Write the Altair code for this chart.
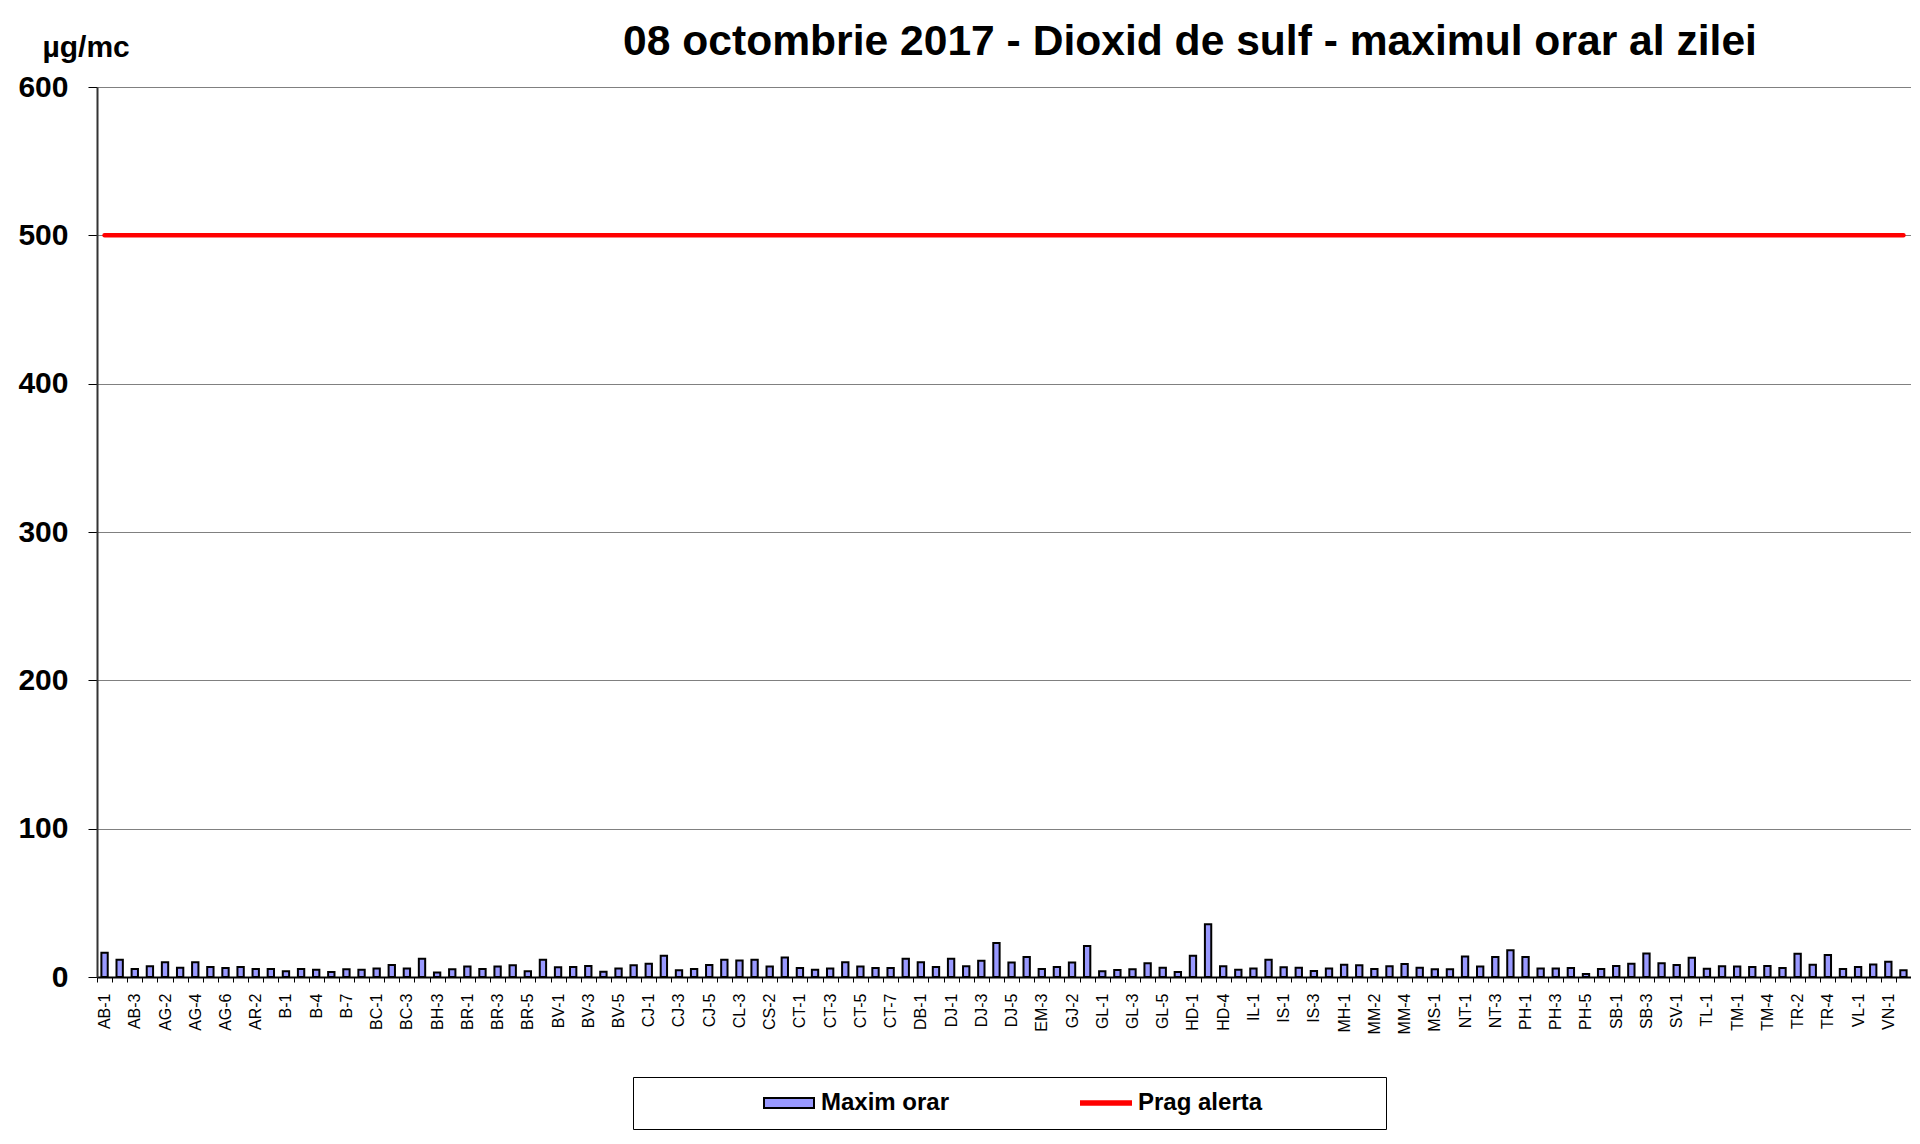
import altair as alt
import pandas as pd
import json

stations = ["AB-1","AB-2","AB-3","AG-1","AG-2","AG-3","AG-4","AG-5","AG-6","AR-1","AR-2","AR-3",
            "B-1","B-3","B-4","B-6","B-7","B-9","BC-1","BC-2","BC-3","BH-2","BH-3","BH-4",
            "BR-1","BR-2","BR-3","BR-4","BR-5","BT-1","BV-1","BV-2","BV-3","BV-4","BV-5","BZ-1",
            "CJ-1","CJ-2","CJ-3","CJ-4","CJ-5","CL-2","CL-3","CS-1","CS-2","CS-3",
            "CT-1","CT-2","CT-3","CT-4","CT-5","CT-6","CT-7","CV-1","DB-1","DB-2",
            "DJ-1","DJ-2","DJ-3","DJ-4","DJ-5","EM-2","EM-3","GJ-1","GJ-2","GJ-3",
            "GL-1","GL-2","GL-3","GL-4","GL-5","GR-1","HD-1","HD-3","HD-4","HR-1","IL-1","IL-2",
            "IS-1","IS-2","IS-3","IS-5","MH-1","MM-1","MM-2","MM-3","MM-4","MM-5","MS-1","MS-2",
            "NT-1","NT-2","NT-3","OT-1","PH-1","PH-2","PH-3","PH-4","PH-5","PH-6",
            "SB-1","SB-2","SB-3","SJ-1","SV-1","SV-2","TL-1","TL-2","TM-1","TM-3","TM-4","TM-5",
            "TR-2","TR-3","TR-4","TR-5","VL-1","VL-2","VN-1","VN-2"]

maxim_orar = [16.4, 11.7, 5.4, 7.2, 9.9, 6.3, 9.9, 6.7, 6.1, 6.7, 5.4, 5.4, 3.8, 5.4, 4.9, 3.4, 5.2, 4.9,
              5.8, 8.1, 5.8, 12.3, 3.1, 5.2, 7.0,
              5.4, 7.0, 7.9, 3.8, 11.7, 6.5, 6.7, 7.4, 3.6, 5.8, 7.9, 9.0, 14.4, 4.5, 5.4, 8.1, 11.7,
              11.2, 11.7, 7.0, 13.2, 6.1, 4.9, 5.8,
              9.9, 7.0, 6.1, 6.1, 12.3, 9.9, 6.7, 12.3, 7.2, 11.0, 22.9, 9.7, 13.5, 5.4, 6.7, 9.7,
              20.9, 3.8, 4.7, 5.2, 9.2, 6.3, 3.4, 14.4,
              35.5, 7.2, 4.9, 5.8, 11.7, 6.5, 6.3, 4.0, 5.8, 8.3, 7.9, 5.4, 7.2, 8.8, 6.3, 5.2, 5.2,
              13.9, 7.0, 13.5, 18.0, 13.5, 5.8, 5.8,
              6.1, 2.0, 5.4, 7.4, 9.0, 15.9, 9.2, 8.1, 13.0, 5.6, 7.2, 7.0, 6.7, 7.4, 6.1, 15.7, 8.3,
              14.8, 5.4, 6.7, 8.5, 10.3, 4.5]

prag_alerta = 500
series_names = ["Maxim orar", "Prag alerta"]
series_colors = ["#9999FF", "#FF0000"]
y_ticks = [0, 100, 200, 300, 400, 500, 600]
title_text = "08 octombrie 2017 - Dioxid de sulf - maximul orar al zilei"
unit_text = "µg/mc"

shown_labels = stations[::2]

bars_df = pd.DataFrame({"statie": stations, "valoare": maxim_orar, "serie": series_names[0]})
line_df = pd.DataFrame({"statie": stations, "valoare": [prag_alerta] * len(stations)})

FONT = "Liberation Sans"

x_enc = alt.X(
    "statie:N",
    sort=stations,
    scale=alt.Scale(paddingInner=0, paddingOuter=0),
    axis=alt.Axis(
        title=None,
        labelAngle=270,
        labelFontSize=16,
        labelFont=FONT,
        labelColor="black",
        labelPadding=11,
        labelOverlap=False,
        labelExpr="indexof(" + json.dumps(shown_labels) + ", datum.value) >= 0 ? datum.value : ''",
        tickBand="extent",
        tickSize=5,
        tickColor="black",
        domainColor="black",
        domainWidth=2,
        grid=False,
    ),
)

y_enc = alt.Y(
    "valoare:Q",
    scale=alt.Scale(domain=[0, 600], nice=False),
    axis=alt.Axis(
        values=y_ticks,
        title=unit_text,
        titleAngle=0,
        titleX=-55,
        titleY=-31,
        titleAlign="left",
        titleBaseline="alphabetic",
        titleFont=FONT,
        titleFontSize=30,
        titleFontWeight="bold",
        titleColor="black",
        labelFont=FONT,
        labelFontSize=30,
        labelFontWeight="bold",
        labelColor="black",
        labelPadding=20,
        tickSize=9,
        tickColor="black",
        domainColor="#333333",
        domainWidth=2,
        gridColor="#808080",
        gridWidth=1,
    ),
)

bar_sym = "M-1,-0.2H1V0.2H-1Z"
line_sym = "M-1,-0.07H1V0.07H-1Z"
is_bar = f"datum.value === '{series_names[0]}'"
color_scale = alt.Scale(domain=series_names, range=series_colors)
legend = alt.Legend(
    title="\u00a0",
    titleOrient="right",
    titlePadding=112,
    titleFontSize=24,
    orient="none",
    legendX=536,
    legendY=990,
    direction="horizontal",
    strokeColor="black",
    fillColor="white",
    padding=12,
    labelFont=FONT,
    labelFontSize=24,
    labelFontWeight="bold",
    labelColor="black",
    symbolSize=2500,
    symbolOffset=118,
    columnPadding=12,
    labelOffset=6,
    clipHeight=28,
    symbolType=alt.ExprRef(f"{is_bar} ? '{bar_sym}' : '{line_sym}'"),
    symbolStrokeColor=alt.ExprRef(f"{is_bar} ? 'black' : '{series_colors[1]}'"),
    symbolStrokeWidth=2,
    symbolOpacity=1,
)

bars = alt.Chart(bars_df).mark_bar(
    width=alt.RelativeBandSize(0.42), stroke="black", strokeWidth=2
).encode(
    x=x_enc,
    y=y_enc,
    color=alt.Color("serie:N", scale=color_scale, legend=legend),
)

line = alt.Chart(line_df).mark_line(
    color=series_colors[1], strokeWidth=4.5, strokeCap="round"
).encode(
    x=alt.X("statie:N", sort=stations),
    y=alt.Y("valoare:Q"),
)

chart = alt.layer(bars, line).properties(
    width=1814,
    height=890,
    padding={"left": 89, "top": 79, "right": 0, "bottom": 155},
    autosize=alt.AutoSizeParams(type="none"),
    title=alt.TitleParams(
        text=title_text,
        font=FONT,
        fontSize=42.6,
        fontWeight="bold",
        color="black",
        anchor="middle",
        frame="group",
        dx=186,
        dy=66,
        baseline="alphabetic",
        offset=0,
    ),
).configure_view(strokeWidth=0)

chart.save("out.html", embed_options={"renderer": "svg", "actions": False})
